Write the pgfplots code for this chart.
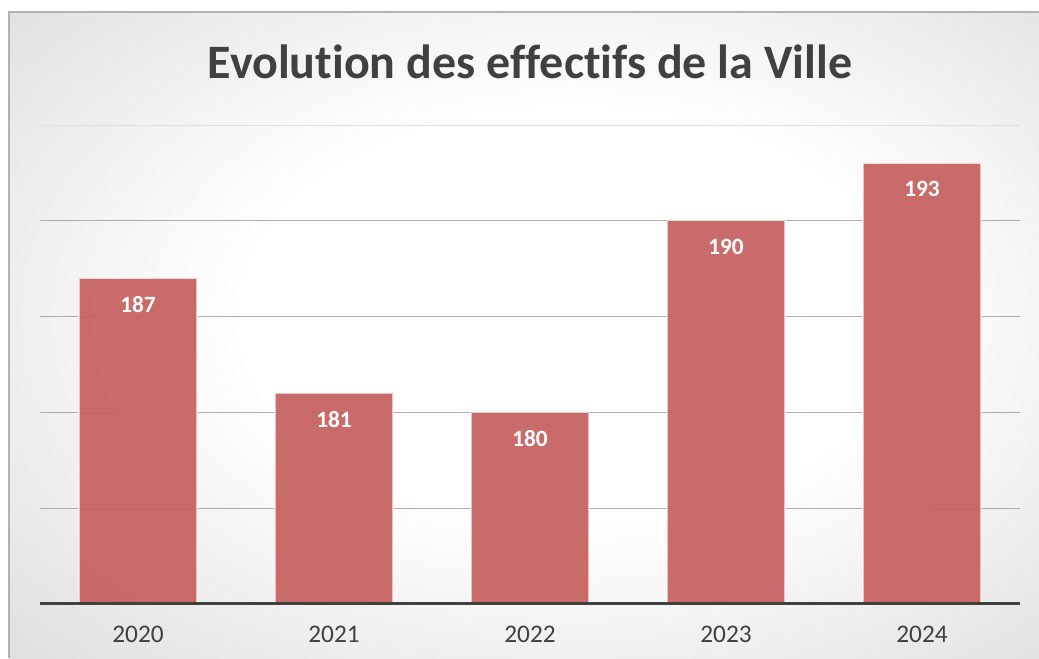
\documentclass[border=0pt]{standalone}
\usepackage{pgfplots}
\pgfplotsset{compat=1.18}
\usepackage{fontspec}
\setmainfont{Carlito}[Ligatures=NoCommon]
\definecolor{barred}{RGB}{196,92,90}
\definecolor{txt}{RGB}{64,64,64}
\pgfdeclareradialshading{bgshade}{\pgfpoint{3bp}{2bp}}{color(0bp)=(white); color(16bp)=(white); color(50bp)=(black!20); color(75bp)=(black!27)}
\begin{document}
\begin{tikzpicture}[x=0.75pt,y=0.75pt]
\useasboundingbox (0,0) rectangle (1039,658);
\fill[white] (0,0) rectangle (1039,658);
\shade[shading=bgshade] (9,0) rectangle (1039,646);
\draw[black!30, line width=1pt] (9,0) -- (9,646) -- (1039,646);
\node[anchor=base, font=\bfseries\fontsize{36}{40}\selectfont, text=txt] at (530,579) {Evolution des effectifs de la Ville};
\begin{axis}[
  at={(30pt,40.5pt)}, anchor=south west,
  scale only axis, width=735pt, height=359.25pt,
  xmin=-0.5, xmax=4.5, ymin=170, ymax=195,
  ytick={170,175,180,185,190}, yticklabels={},
  ymajorgrids, grid style={black!32, line width=0.9pt},
  xtick={0,1,2,3,4}, xticklabels={2020,2021,2022,2023,2024},
  xticklabel style={anchor=base, yshift=-29pt, font=\fontsize{19}{22}\selectfont, text=txt},
  axis line style={draw=none}, major tick length=0pt,
  /pgf/number format/assume math mode=true,
  ybar, bar width=88.5pt,
  nodes near coords,
  every node near coord/.style={anchor=center, yshift=-19.5pt, font=\bfseries\fontsize{17.5}{20}\selectfont, text=white},
]
\draw[black!12, line width=0.9pt] (axis cs:-0.5,195) -- (axis cs:4.5,195);
\addplot[fill=barred, fill opacity=0.9, draw=white, draw opacity=0.6, line width=0.8pt, text opacity=1] coordinates {(0,187) (1,181) (2,180) (3,190) (4,193)};
\draw[txt, line width=3pt] (axis cs:-0.5,170) -- (axis cs:4.5,170);
\end{axis}
\end{tikzpicture}
\end{document}
